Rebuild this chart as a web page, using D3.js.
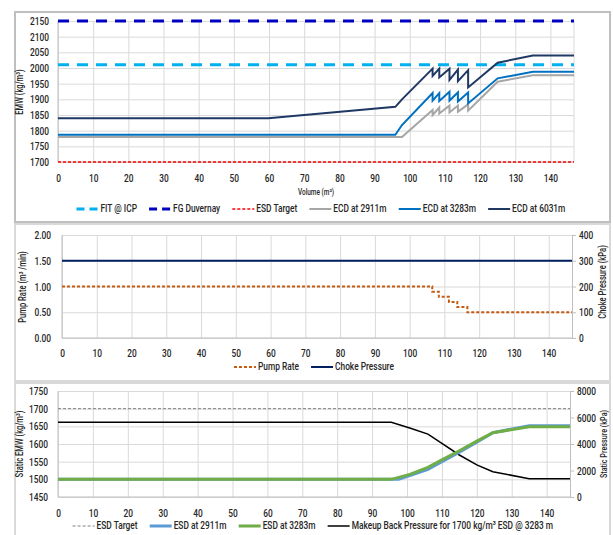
<!DOCTYPE html>
<html>
<head>
<meta charset="utf-8">
<script src="https://cdn.jsdelivr.net/npm/d3@7"></script>
<style>
  body { margin: 0; background: #fff; }
  svg text { font-family: Roboto, "Liberation Sans", sans-serif; font-weight: 500; fill: #262626; }
</style>
</head>
<body>
<svg id="chart" width="613" height="535"></svg>
<script>
// ---------------- data ----------------
var xTickValues = [0, 10, 20, 30, 40, 50, 60, 70, 80, 90, 100, 110, 120, 130, 140];
var xMax = 146.7;

// panel 1 - EMW
var emwTicks = [1700, 1750, 1800, 1850, 1900, 1950, 2000, 2050, 2100, 2150];
var fitIcp = 2010;
var fgDuvernay = 2150;
var esdTargetTop = 1700;

var ecd2911Vol = [0, 97.8, 106.5, 106.5, 108.4, 108.4, 111.3, 111.3, 113.7, 113.7, 116.6, 116.6, 125, 135, 146.7];
var ecd2911 = [1780, 1780, 1866, 1850, 1874, 1855, 1880, 1858, 1880, 1860, 1884, 1864, 1956, 1977, 1977];

var ecd3283Vol = [0, 95.9, 97.8, 106.5, 106.5, 108.4, 108.4, 111.3, 111.3, 113.7, 113.7, 116.6, 116.6, 125, 135, 146.7];
var ecd3283 = [1787, 1787, 1818, 1920, 1896, 1920, 1895, 1924, 1896, 1922, 1893, 1922, 1887, 1967, 1988, 1988];

var ecd6031Vol = [0, 59.8, 95.9, 97.8, 106.5, 106.5, 108.4, 108.4, 111.3, 111.3, 113.7, 113.7, 116.6, 116.6, 125, 135, 146.7];
var ecd6031 = [1840, 1840, 1876, 1900, 1998, 1975, 1998, 1970, 1998, 1962, 1995, 1958, 1993, 1938, 2017, 2040, 2040];

// panel 2 - pump rate / choke
var rateTicks = [0, 0.5, 1, 1.5, 2];
var chokeTicks = [0, 100, 200, 300, 400];
var pumpVol = [0, 106.5, 108.4, 111.3, 113.7, 116.6, 146.7];
var pumpRate = [1.0, 0.9, 0.8, 0.7, 0.6, 0.5, 0.5];
var chokePressure = 300;

// panel 3 - static EMW / pressure
var staticTicks = [1450, 1500, 1550, 1600, 1650, 1700, 1750];
var pressureTicks = [0, 2000, 4000, 6000, 8000];
var esdTarget = 1700;
var esd2911Vol = [0, 97.6, 101, 106, 110, 115, 120, 124.6, 135, 146.7];
var esd2911 = [1500, 1500, 1511, 1528, 1550, 1577, 1605, 1632, 1652, 1652];
var esd3283Vol = [0, 95.5, 100.8, 106, 110, 115, 120, 124.6, 135, 146.7];
var esd3283 = [1500, 1500, 1514, 1534, 1555, 1581, 1608, 1632, 1649, 1649];
var makeupVol = [0, 95.5, 101, 106, 110, 115, 120, 124.6, 135, 146.7];
var makeupPressure = [5640, 5640, 5190, 4750, 4050, 3170, 2420, 1910, 1380, 1380];

// ---------------- chart ----------------
var svg = d3.select("#chart");
var gridColor = "#D9D9D9";
var fontSize = 11;
var squeeze = 0.76; // no narrow font installed, so squeeze glyphs

// squeeze text horizontally around its anchor point to mimic a condensed face
function narrow(sel) {
  sel.each(function () {
    var ax = +this.getAttribute("x") || 0;
    var tr = this.getAttribute("transform") || "";
    d3.select(this).attr("transform",
      tr + " translate(" + ax + ",0) scale(" + squeeze + ",1) translate(" + (-ax) + ",0)");
  });
  return sel;
}

//panel frames
svg.append("rect").attr("x", 15).attr("y", 12).attr("width", 595).attr("height", 210)
  .attr("fill", "none").attr("stroke", "#BFBFBF").attr("stroke-width", 2);
svg.append("rect").attr("x", 15).attr("y", 224).attr("width", 595).attr("height", 157)
  .attr("fill", "none").attr("stroke", "#D9D9D9").attr("stroke-width", 2);
svg.append("rect").attr("x", 15).attr("y", 383).attr("width", 595).attr("height", 160)
  .attr("fill", "none").attr("stroke", "#D9D9D9").attr("stroke-width", 2);

function drawGrid(x, y, yTicks, pad) {
  var g = svg.append("g");
  var h = y.range()[0] - y.range()[1];
  var w = x.range()[1] - x.range()[0];

  // vertical grid + x labels
  var xa = g.append("g")
    .attr("transform", "translate(0," + y.range()[0] + ")")
    .call(d3.axisBottom(x).tickValues(xTickValues).tickSize(-h).tickPadding(pad.x));
  // horizontal grid + y labels
  var ya = g.append("g")
    .attr("transform", "translate(" + x.range()[0] + ",0)")
    .call(d3.axisLeft(y).tickValues(yTicks).tickSize(-w).tickPadding(pad.y).tickFormat(pad.fmt || d3.format("d")));

  [xa, ya].forEach(function (a) {
    a.select(".domain").remove();
    a.selectAll("line").attr("stroke", gridColor);
    a.selectAll("text").attr("font-size", fontSize).attr("fill", "#262626").call(narrow);
  });

  // axis lines
  g.append("line").attr("x1", x.range()[0]).attr("x2", x.range()[0])
    .attr("y1", y.range()[1]).attr("y2", y.range()[0]).attr("stroke", "#BFBFBF");
  g.append("line").attr("x1", x.range()[0]).attr("x2", x.range()[1])
    .attr("y1", y.range()[0]).attr("y2", y.range()[0]).attr("stroke", "#BFBFBF");
  return g;
}

function drawRightAxis(scale, ticks, xPos) {
  var r = svg.append("g").attr("transform", "translate(" + xPos + ",0)")
    .call(d3.axisRight(scale).tickValues(ticks).tickSize(4).tickPadding(3).tickFormat(d3.format("d")));
  r.select(".domain").attr("stroke", "#BFBFBF");
  r.selectAll("line").attr("stroke", "#BFBFBF");
  r.selectAll("text").attr("font-size", fontSize).attr("fill", "#262626").call(narrow);
}

function drawSeries(x, y, vols, vals, style, curve) {
  var line = d3.line()
    .x(function (d) { return x(d[0]); })
    .y(function (d) { return y(d[1]); })
    .curve(curve || d3.curveLinear);
  svg.append("path")
    .datum(d3.zip(vols, vals))
    .attr("d", line)
    .attr("fill", "none")
    .attr("stroke", style.color)
    .attr("stroke-width", style.width)
    .attr("stroke-dasharray", style.dash || null);
}

function drawTitle(text, tx, ty, rot, size) {
  var t = svg.append("text")
    .attr("transform", "translate(" + tx + "," + ty + ") rotate(" + rot + ")")
    .attr("text-anchor", "middle")
    .attr("dominant-baseline", "middle")
    .attr("font-size", size)
    .text(text);
  return narrow(t);
}

function drawLegend(items, cx, cy) {
  var g = svg.append("g");
  var symLen = 22, gap = 2, itemGap = 12;
  var xPos = 0;
  items.forEach(function (it) {
    var ig = g.append("g").attr("transform", "translate(" + xPos + ",0)");
    ig.append("line").attr("x1", 0).attr("x2", symLen).attr("y1", 0).attr("y2", 0)
      .attr("stroke", it.color).attr("stroke-width", it.width)
      .attr("stroke-dasharray", it.legendDash || it.dash || null);
    var t = ig.append("text").attr("x", symLen + gap).attr("y", 0)
      .attr("dominant-baseline", "middle").attr("font-size", fontSize).text(it.label);
    var len = t.node().getComputedTextLength() * squeeze;
    narrow(t);
    xPos += symLen + gap + len + itemGap;
  });
  var total = xPos - itemGap;
  g.attr("transform", "translate(" + (cx - total / 2) + "," + cy + ")");
}

// ---------- panel 1 ----------
var x1 = d3.scaleLinear().domain([0, xMax]).range([58, 574]);
var y1 = d3.scaleLinear().domain([1700, 2150]).range([162, 21]);
drawGrid(x1, y1, emwTicks, { x: 12, y: 9 });
svg.append("line").attr("x1", 574).attr("x2", 574).attr("y1", 21).attr("y2", 162).attr("stroke", gridColor);

var s1 = {
  fit: { label: "FIT @ ICP", color: "#00B0F0", width: 3, dash: "11,8", legendDash: "8,5" },
  fg: { label: "FG Duvernay", color: "#0000C0", width: 3, dash: "11,8", legendDash: "8,5" },
  esd: { label: "ESD Target", color: "#FF0000", width: 1.5, dash: "3,2" },
  e2911: { label: "ECD at 2911m", color: "#A6A6A6", width: 2 },
  e3283: { label: "ECD at 3283m", color: "#0070C0", width: 2 },
  e6031: { label: "ECD at 6031m", color: "#203864", width: 2 }
};
drawSeries(x1, y1, [0, xMax], [esdTargetTop, esdTargetTop], s1.esd);
drawSeries(x1, y1, [0, xMax], [fitIcp, fitIcp], s1.fit);
drawSeries(x1, y1, [0, xMax], [fgDuvernay, fgDuvernay], s1.fg);
drawSeries(x1, y1, ecd2911Vol, ecd2911, s1.e2911);
drawSeries(x1, y1, ecd3283Vol, ecd3283, s1.e3283);
drawSeries(x1, y1, ecd6031Vol, ecd6031, s1.e6031);

drawTitle("EMW (kg/m\u00B3)", 20, 92, -90, 10);
drawTitle("Volume (m\u00B3)", 316, 193, 0, 8.5);
drawLegend([s1.fit, s1.fg, s1.esd, s1.e2911, s1.e3283, s1.e6031], 321, 209);

// ---------- panel 2 ----------
var x2 = d3.scaleLinear().domain([0, xMax]).range([62, 572]);
var y2 = d3.scaleLinear().domain([0, 2]).range([338, 235]);
var y2r = d3.scaleLinear().domain([0, 400]).range([338, 235]);
drawGrid(x2, y2, rateTicks, { x: 11.5, y: 11, fmt: d3.format(".2f") });
drawRightAxis(y2r, chokeTicks, 572);

var s2 = {
  pump: { label: "Pump Rate", color: "#C55A11", width: 2, dash: "3,2" },
  choke: { label: "Choke Pressure", color: "#002060", width: 2 }
};
drawSeries(x2, y2r, [0, xMax], [chokePressure, chokePressure], s2.choke);
drawSeries(x2, y2, pumpVol, pumpRate, s2.pump, d3.curveStepAfter);

drawTitle("Pump Rate (m\u00B3 /min)", 23, 287, -90, 10);
drawTitle("Choke Pressure (kPa)", 603, 282, -90, 10);
drawLegend([s2.pump, s2.choke], 314, 367);

// ---------- panel 3 ----------
var x3 = d3.scaleLinear().domain([0, xMax]).range([58, 570]);
var y3 = d3.scaleLinear().domain([1450, 1750]).range([497, 391]);
var y3r = d3.scaleLinear().domain([0, 8000]).range([497, 391]);
drawGrid(x3, y3, staticTicks, { x: 12, y: 10 });
drawRightAxis(y3r, pressureTicks, 570);

var s3 = {
  target: { label: "ESD Target", color: "#808080", width: 1, dash: "3,2" },
  e2911: { label: "ESD at 2911m", color: "#5B9BD5", width: 3 },
  e3283: { label: "ESD at 3283m", color: "#70AD47", width: 3 },
  makeup: { label: "Makeup Back Pressure for 1700 kg/m\u00B3 ESD @ 3283 m", color: "#000000", width: 1.5 }
};
drawSeries(x3, y3, [0, xMax], [esdTarget, esdTarget], s3.target);
drawSeries(x3, y3r, makeupVol, makeupPressure, s3.makeup);
drawSeries(x3, y3, esd2911Vol, esd2911, s3.e2911);
drawSeries(x3, y3, esd3283Vol, esd3283, s3.e3283);

drawTitle("Static EMW (kg/m\u00B3)", 20, 444, -90, 10);
drawTitle("Static Pressure (kPa)", 604, 444, -90, 9.5);
drawLegend([s3.target, s3.e2911, s3.e3283, s3.makeup], 313, 526);
</script>
</body>
</html>
